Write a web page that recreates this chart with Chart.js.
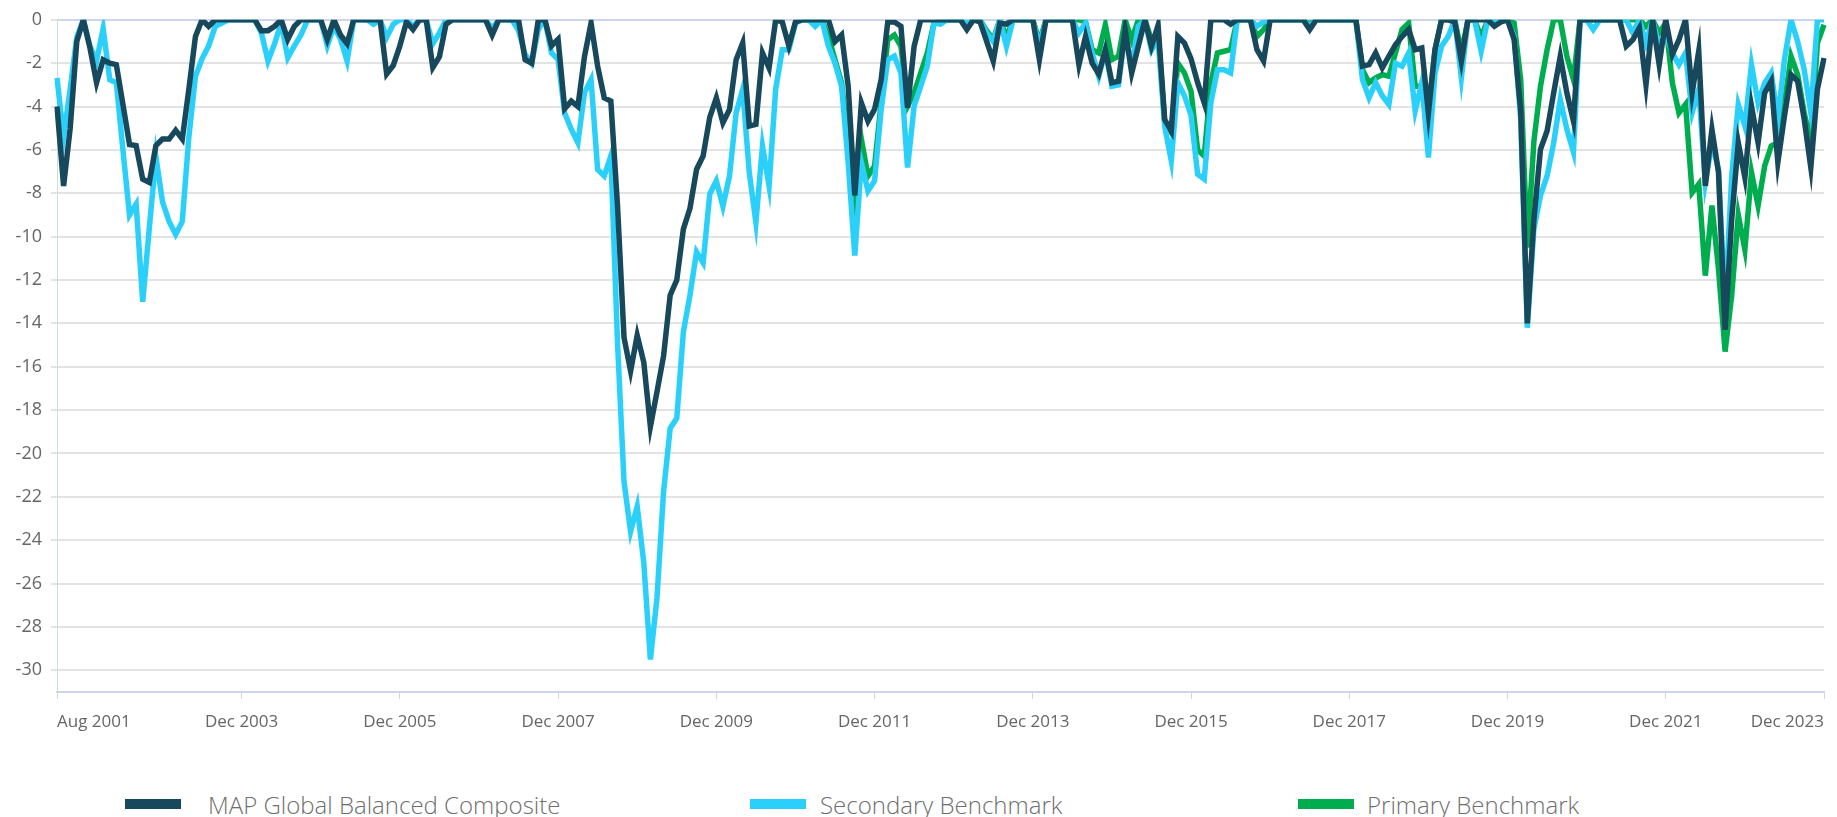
<!DOCTYPE html>
<html>
<head>
<meta charset="utf-8">
<title>Drawdown</title>
<script src="https://cdn.jsdelivr.net/npm/chart.js@4/dist/chart.umd.min.js"></script>
<style>
  html, body { margin: 0; padding: 0; background: #fff; }
  #wrap { position: relative; width: 1837px; height: 817px; overflow: hidden; }
  #chart { position: absolute; left: 0; top: 0; }
  .legend-item { position: absolute; top: 789px; height: 30px; display: flex; align-items: center;
    font-family: "Open Sans", sans-serif; font-weight: 300; font-size: 24px; color: #6f6f6f; white-space: nowrap; }
  .legend-box { width: 56px; height: 10px; }
</style>
</head>
<body>
<div id="wrap">
  <canvas id="chart" width="1837" height="760"></canvas>
  <div id="legend"></div>
</div>
<script>
// 월별 카테고리 (Aug 2001 ~ Dec 2023)
const monthNames = ['Jan', 'Feb', 'Mar', 'Apr', 'May', 'Jun', 'Jul', 'Aug', 'Sep', 'Oct', 'Nov', 'Dec'];
const months = [];
for (let y = 2001, m = 7; y < 2024; m++) {
  if (m === 12) { m = 0; y++; if (y === 2024) break; }
  months.push(monthNames[m] + ' ' + y);
}

// 눈금 라벨
const tickLabels = ['Aug 2001', 'Dec 2003', 'Dec 2005', 'Dec 2007', 'Dec 2009', 'Dec 2011',
  'Dec 2013', 'Dec 2015', 'Dec 2017', 'Dec 2019', 'Dec 2021', 'Dec 2023'];
const yTicks = [0, -2, -4, -6, -8, -10, -12, -14, -16, -18, -20, -22, -24, -26, -28, -30];

// MAP Global Balanced Composite
const mapComposite = [
  -4.0, -7.66, -5.0, -1.0, 0,
  -1.3, -2.9, -1.84, -2.0, -2.07, -3.9, -5.75, -5.8, -7.35, -7.5, -5.8, -5.5,
  -5.5, -5.1, -5.5, -3.2, -0.77, 0, -0.3, 0, 0, 0, 0, 0,
  0, 0, -0.5, -0.5, -0.3, 0, -0.9, -0.3, 0, 0, 0, 0,
  -0.9, 0, -0.7, -1.1, 0, 0, 0, 0, 0, -2.5, -2.1, -1.2,
  -0.1, -0.45, 0, 0, -2.2, -1.7, -0.2, 0, 0, 0, 0, 0,
  0, -0.7, 0, 0, 0, 0, -1.84, -2.0, 0, 0, -1.2, -0.9,
  -4.1, -3.75, -4.0, -1.7, -0.15, -2.14, -3.6, -3.75, -8.5, -14.65, -16.2, -14.55,
  -15.8, -18.76, -17.15, -15.5, -12.7, -12.0, -9.65, -8.7, -6.9, -6.28, -4.5, -3.6,
  -4.75, -4.13, -1.84, -1.07, -4.9, -4.82, -1.53, -2.22, 0, -0.1, -1.2, -0.1,
  0, 0, 0, 0, 0, -1.0, -0.7, -3.06, -8.1, -3.83, -4.67, -4.13,
  -2.76, -0.1, -0.1, -0.3, -4.06, -1.22, 0, 0, 0, 0, 0, 0,
  0, -0.45, 0, -0.1, -1.0, -1.9, -0.15, -0.2, 0, 0, 0, 0,
  -1.84, 0, 0, 0, 0, 0, -2.07, -0.77, -2.0, -2.5, -1.38, -2.9,
  -2.83, -0.45, -2.45, -1.22, 0, -1.22, -0.25, -4.6, -5.13, -0.77, -1.07, -1.8,
  -2.9, -3.83, 0, 0, 0, -0.2, 0, 0, 0, -1.38, -1.9, 0,
  0, 0, 0, 0, 0, -0.45, 0, 0, 0, 0, 0, 0,
  0, -2.14, -2.07, -1.53, -2.22, -1.68, -1.15, -0.77, -0.45, -1.38, -1.3, -4.3,
  -1.38, 0, 0, -0.1, -1.9, 0, 0, 0, 0, -0.3, -0.1, 0,
  -0.9, -4.2, -14.0, -9.2, -5.97, -5.13, -3.37, -1.68, -3.37, -4.67, 0, 0,
  0, 0, 0, 0, 0, -1.22, -0.92, -0.38, -3.0, 0, -2.07, 0,
  -1.6, -0.92, 0, -3.37, -1.45, -7.66, -5.05, -7.04, -14.3, -9.2, -5.67, -7.27,
  -3.98, -5.67, -3.37, -2.83, -6.58, -4.44, -2.53, -2.83, -4.59, -6.81, -3.2, -1.76
];

// Secondary Benchmark
const secondaryBenchmark = [
  -2.68, -5.4, -3.2, -0.8, 0,
  -1.2, -1.9, -0.4, -2.76, -2.9, -6.0, -9.0, -8.5, -13.0, -9.6, -6.3, -8.4,
  -9.3, -9.9, -9.3, -5.4, -2.6, -1.8, -1.2, -0.3, -0.15, 0, 0, 0,
  0, 0, -0.6, -1.9, -1.1, -0.15, -1.75, -1.2, -0.7, 0, 0, 0,
  -1.2, -0.3, -0.9, -1.9, 0, 0, 0, -0.2, 0, -0.8, -0.2, 0,
  0, -0.3, 0, 0, -1.1, -0.6, 0, 0, 0, 0, 0, 0,
  0, -0.4, 0, 0, 0, -0.5, -1.6, -2.0, -0.45, 0, -1.53, -1.84,
  -4.3, -5.05, -5.67, -3.37, -2.76, -6.9, -7.2, -6.28, -14.8, -21.3, -23.6, -22.44,
  -25.05, -29.5, -26.65, -21.75, -18.84, -18.38, -14.4, -12.7, -10.7, -11.2, -8.04, -7.43,
  -8.6, -7.2, -4.3, -3.2, -7.05, -9.35, -5.82, -7.66, -3.2, -1.38, -1.38, -0.15,
  0, 0, -0.3, 0, -1.22, -2.0, -3.06, -6.58, -10.87, -6.58, -7.9, -7.43,
  -4.13, -1.84, -1.68, -2.45, -6.81, -3.98, -3.06, -2.14, -0.15, -0.2, 0, 0,
  0, -0.2, 0, 0, -0.6, -1.0, 0, -1.22, 0, 0, 0, 0,
  -1.2, 0, 0, 0, 0, 0, -0.6, -0.15, -1.53, -2.6, -1.45, -3.06,
  -3.0, -0.6, -2.14, -0.3, 0, -1.4, -0.9, -4.9, -6.5, -2.9, -3.5, -4.4,
  -7.12, -7.35, -3.83, -2.3, -2.3, -2.45, 0, 0, 0, -0.3, -0.1, 0,
  0, 0, 0, 0, 0, -0.3, 0, 0, 0, 0, 0, 0,
  0, -2.76, -3.6, -2.9, -3.5, -3.9, -2.0, -2.14, -1.53, -4.2, -2.9, -6.35,
  -2.45, -1.22, -0.77, 0, -2.68, 0, 0, -1.45, 0, 0, 0, 0,
  -0.77, -4.6, -14.2, -9.65, -8.1, -7.2, -5.67, -3.68, -5.05, -6.1, 0, 0,
  -0.45, 0, 0, 0, 0, 0, -0.6, 0, -1.07, 0, -1.22, -0.69,
  -1.53, -2.07, -1.53, -4.29, -3.22, -7.5, -5.67, -6.9, -13.2, -7.2, -3.9, -4.9,
  -2.07, -3.83, -2.91, -2.45, -4.6, -1.84, 0, -1.0, -2.3, -4.29, 0, 0
];

// Primary Benchmark (Jan 2011 부터)
const primaryStart = 'Jan 2011';
const primaryValues = [
  0, 0, 0, 0, -0.77, -1.84, -2.91, -5.67, -8.4, -5.5, -7.2, -6.74,
  -3.83, -0.92, -0.7, -1.22, -3.98, -3.37, -2.45, -1.53, -0.15, 0, 0, 0,
  0, -0.2, 0, 0, -0.5, -0.9, 0, -0.8, 0, 0, 0, 0,
  -1.0, 0, 0, 0, 0, 0, 0, -0.1, -1.38, -1.53, -0.23, -1.84,
  -1.68, 0, -0.92, 0, 0, -0.92, -0.6, -4.7, -5.2, -2.0, -2.45, -3.3,
  -6.0, -6.28, -2.91, -1.53, -1.45, -1.38, 0, 0, 0, -0.77, -0.45, 0,
  0, 0, 0, 0, 0, -0.2, 0, 0, 0, 0, 0, 0,
  0, -2.3, -2.9, -2.68, -2.53, -2.6, -1.53, -0.45, -0.15, -3.06, -3.06, -4.3,
  -1.38, 0, 0, 0, -1.5, 0, 0, -0.8, 0, 0, 0, 0,
  -0.15, -2.76, -10.5, -5.6, -3.06, -1.38, 0, 0, -1.68, -2.76, 0, 0,
  0, 0, 0, 0, 0, 0, 0, 0, -0.3, 0, -0.6, -0.15,
  -2.91, -4.29, -3.9, -7.97, -7.58, -11.8, -8.57, -11.5, -15.3, -12.7, -9.0, -10.6,
  -7.04, -8.57, -6.74, -5.82, -5.67, -3.83, -1.68, -2.53, -4.29, -5.67, -1.07, -0.23
];
const primaryBenchmark = months.map((m, i) => {
  const k = i - months.indexOf(primaryStart);
  return k >= 0 ? primaryValues[k] : null;
});

const seriesNames = ['MAP Global Balanced Composite', 'Secondary Benchmark', 'Primary Benchmark'];
const seriesColors = ['#17485b', '#2bd0fa', '#00ad4e'];

const tickFont = { family: 'Open Sans', size: 17 };

const chart = new Chart(document.getElementById('chart'), {
  type: 'line',
  data: {
    labels: months,
    datasets: [
      { label: seriesNames[0], data: mapComposite, borderColor: seriesColors[0] },
      { label: seriesNames[1], data: secondaryBenchmark, borderColor: seriesColors[1] },
      { label: seriesNames[2], data: primaryBenchmark, borderColor: seriesColors[2] }
    ]
  },
  options: {
    responsive: false,
    animation: false,
    devicePixelRatio: 1,
    layout: { padding: { top: 17, right: 12, left: 0, bottom: 0 } },
    elements: {
      line: { borderWidth: 5.5, tension: 0, fill: false },
      point: { radius: 0, hoverRadius: 0 }
    },
    plugins: {
      legend: { display: false },
      tooltip: { enabled: false }
    },
    scales: {
      x: {
        type: 'category',
        offset: false,
        afterFit: (scale) => { scale.height = 68; },
        grid: {
          display: true,
          drawOnChartArea: false,
          drawTicks: true,
          tickLength: 7,
          color: '#ccd6eb',
          lineWidth: 1
        },
        border: { display: true, color: '#ccd6eb', width: 2 },
        ticks: {
          autoSkip: false,
          maxRotation: 0,
          minRotation: 0,
          align: 'inner',
          padding: 13,
          color: '#666666',
          font: tickFont,
          callback: function (value) {
            const lab = this.getLabelForValue(value);
            return tickLabels.includes(lab) ? lab : null;
          }
        }
      },
      y: {
        min: -31,
        max: 0,
        afterFit: (scale) => { scale.width = 57; },
        afterBuildTicks: (scale) => { scale.ticks = yTicks.map(v => ({ value: v })); },
        grid: {
          color: (ctx) => (ctx.tick && ctx.tick.value === 0 ? '#ccd6eb' : '#e3e3e3'),
          tickColor: '#e3e3e3',
          lineWidth: 2,
          tickLength: 6
        },
        border: { display: true, color: '#ccdde6', width: 1 },
        ticks: {
          autoSkip: false,
          padding: 9,
          color: '#666666',
          font: { family: 'Open Sans', size: 18 }
        }
      }
    }
  }
});

// 범례
const legendLeft = [125, 750, 1298];
const legendGap = [27, 14, 13];
const legendEl = document.getElementById('legend');
chart.data.datasets.forEach((ds, i) => {
  const item = document.createElement('div');
  item.className = 'legend-item';
  item.style.left = legendLeft[i] + 'px';
  const box = document.createElement('span');
  box.className = 'legend-box';
  box.style.background = ds.borderColor;
  box.style.marginRight = legendGap[i] + 'px';
  const txt = document.createElement('span');
  txt.textContent = ds.label;
  item.appendChild(box);
  item.appendChild(txt);
  legendEl.appendChild(item);
});
</script>
</body>
</html>
